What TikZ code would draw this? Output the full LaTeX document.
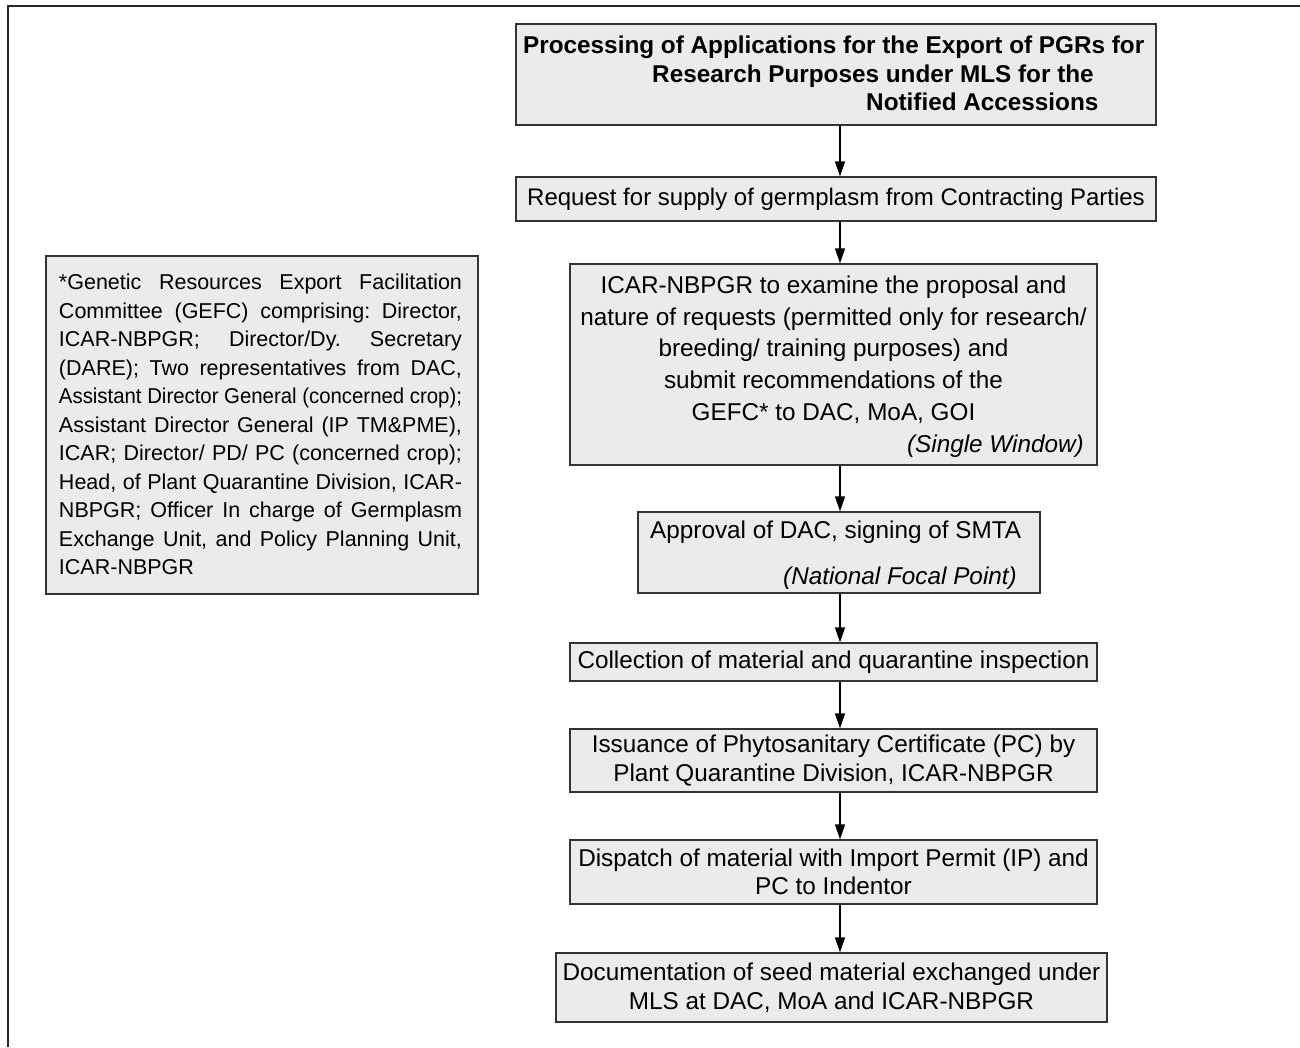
\documentclass[tikz,border=0pt]{standalone}
\usepackage{fontspec}
\usepackage{graphicx}
\setmainfont{Liberation Sans}
\usetikzlibrary{arrows.meta}
\definecolor{boxfill}{HTML}{EBEBEB}
\definecolor{boxline}{HTML}{333333}
\frenchspacing
\newsavebox\jlbox
\newcommand\jline[1]{\sbox\jlbox{#1}\ifdim\wd\jlbox>403pt\relax\resizebox{403pt}{\height}{#1}\else\makebox[403pt][s]{#1}\fi}
\begin{document}
\begin{tikzpicture}[x=1pt,y=-1pt,
  boxst/.style={draw=boxline, line width=1.3pt, fill=boxfill, inner sep=0pt, anchor=center},
  txt/.style={font=\fontsize{24.3pt}{28.5pt}\selectfont, inner sep=0pt},
  ttl/.style={font=\fontsize{24.3pt}{28pt}\selectfont\bfseries, inner sep=0pt, anchor=base west},
  arr/.style={-{Triangle[length=15pt,width=10pt]}, line width=1.3pt, draw=black}]
\useasboundingbox (0,0) rectangle (1300,1047);
\draw[line width=2pt, black!85] (8,1047) -- (8,6) -- (1300,6);
\coordinate (ax) at (840,0);
% title
\node[boxst, minimum width=640pt, minimum height=101pt] (title) at (836,74.5) {};
\node[ttl] (t1) at (523,53) {Processing of Applications for the Export of PGRs for};
\node[ttl] (t2) at (652,82) {Research Purposes under MLS for the};
\node[ttl] (t3) at (866,110.5) {Notified Accessions};
% request
\node[boxst, txt, font=\fontsize{24pt}{28.5pt}\selectfont, minimum width=640pt, minimum height=44pt] (req) at (836,199) {Request for supply of germplasm from Contracting Parties};
% ICAR
\node[boxst, minimum width=527pt, minimum height=201pt] (icar) at (833.5,364.5) {};
\node[txt, align=center, font=\fontsize{24.3pt}{31.7pt}\selectfont] (icart) at (833.5,349.5) {ICAR-NBPGR to examine the proposal and\\nature of requests (permitted only for research/\\breeding/ training purposes) and\\submit recommendations of the\\GEFC* to DAC, MoA, GOI};
\node[txt, anchor=base east] (sw) at (1084,452.7) {\itshape (Single Window)};
% approval
\node[boxst, minimum width=402pt, minimum height=81pt] (appr) at (839,552.5) {};
\node[txt, anchor=base west] (apprt) at (650,538.7) {Approval of DAC, signing of SMTA};
\node[txt, anchor=base east] (nfp) at (1017,584.7) {\itshape (National Focal Point)};
% collection
\node[boxst, txt, minimum width=527pt, minimum height=38pt] (coll) at (833.5,662) {Collection of material and quarantine inspection};
% issuance
\node[boxst, txt, align=center, minimum width=527pt, minimum height=63pt] (iss) at (833.5,760.5) {Issuance of Phytosanitary Certificate (PC) by\\Plant Quarantine Division, ICAR-NBPGR};
% dispatch
\node[boxst, txt, align=center, minimum width=527pt, minimum height=64pt] (disp) at (833.5,872) {Dispatch of material with Import Permit (IP) and\\PC to Indentor};
% documentation
\node[boxst, txt, align=center, minimum width=551pt, minimum height=69pt] (doc) at (831.5,987.5) {Documentation of seed material exchanged under\\MLS at DAC, MoA and ICAR-NBPGR};
% left box
\node[boxst, minimum width=432pt, minimum height=338pt] (gefc) at (262,425) {};
\node[inner sep=0pt, align=left, font=\fontsize{21.5pt}{28.5pt}\selectfont] (gefct) at (260.5,424.5) {%
\jline{*Genetic Resources Export Facilitation}\\
\jline{Committee (GEFC) comprising: Director,}\\
\jline{ICAR-NBPGR; Director/Dy. Secretary}\\
\jline{(DARE); Two representatives from DAC,}\\
\jline{Assistant Director General (concerned crop);}\\
\jline{Assistant Director General (IP TM\&PME),}\\
\jline{ICAR; Director/ PD/ PC (concerned crop);}\\
\jline{Head, of Plant Quarantine Division, ICAR-}\\
\jline{NBPGR; Officer In charge of Germplasm}\\
\jline{Exchange Unit, and Policy Planning Unit,}\\
\makebox[403pt][l]{ICAR-NBPGR}};
% arrows
\draw[arr] (title.south -| ax) -- (req.north -| ax);
\draw[arr] (req.south -| ax) -- (icar.north -| ax);
\draw[arr] (icar.south -| ax) -- (appr.north -| ax);
\draw[arr] (appr.south -| ax) -- (coll.north -| ax);
\draw[arr] (coll.south -| ax) -- (iss.north -| ax);
\draw[arr] (iss.south -| ax) -- (disp.north -| ax);
\draw[arr] (disp.south -| ax) -- (doc.north -| ax);
\end{tikzpicture}
\end{document}
